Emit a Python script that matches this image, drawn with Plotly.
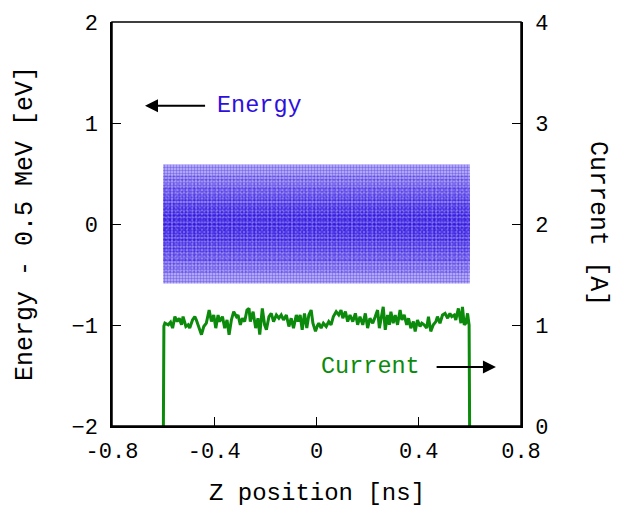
import plotly.graph_objects as go

# ---- data ----
x_ticks = [-0.8, -0.4, 0, 0.4, 0.8]
x_tick_labels = ["-0.8", "-0.4", "0", "0.4", "0.8"]
y_ticks = [-2, -1, 0, 1, 2]
y2_ticks = [0, 1, 2, 3, 4]

# energy cloud envelope (z extent, and energy half-widths of the density bands)
cloud_z = [-0.6, 0.6]
cloud_half = [0.59, 0.48, 0.38, 0.28, 0.19, 0.10]

# current profile [A] vs z [ns]
cur_z = [-0.599, -0.597, -0.593, -0.580, -0.571, -0.563, -0.554, -0.545, -0.537, -0.528, -0.522,
         -0.511, -0.502, -0.496, -0.485, -0.476, -0.470, -0.459, -0.450, -0.441, -0.431,
         -0.420, -0.411, -0.402, -0.394, -0.385, -0.379, -0.368, -0.359, -0.350, -0.342,
         -0.333, -0.324, -0.313, -0.307, -0.298, -0.290, -0.281, -0.272, -0.264, -0.259,
         -0.248, -0.238, -0.229, -0.222, -0.212, -0.203, -0.196, -0.186, -0.177, -0.168,
         -0.157, -0.147, -0.138, -0.129, -0.118, -0.108, -0.099, -0.090, -0.079, -0.072,
         -0.064, -0.056, -0.047, -0.038, -0.030, -0.021, -0.014, -0.004, 0.005,
         0.009, 0.018, 0.027, 0.038, 0.048, 0.057, 0.066, 0.077, 0.087, 0.096, 0.103,
         0.113, 0.122, 0.131, 0.142, 0.152, 0.161, 0.170, 0.181, 0.191, 0.200, 0.209,
         0.220, 0.230, 0.239, 0.246, 0.252, 0.261, 0.269, 0.278, 0.285, 0.291, 0.300,
         0.308, 0.317, 0.327, 0.334, 0.343, 0.353, 0.360, 0.369, 0.379, 0.386, 0.395,
         0.405, 0.412, 0.421, 0.431, 0.438, 0.447, 0.457, 0.467, 0.473, 0.483, 0.493,
         0.503, 0.513, 0.522, 0.529, 0.539, 0.545, 0.555, 0.565, 0.571, 0.578, 0.584,
         0.591, 0.597, 0.599]
cur_a = [0.0, 0.99, 1.018, 1.002, 1.028, 0.969, 1.083, 1.034, 1.067, 1.002, 1.083,
         0.985, 1.002, 0.969, 1.050, 1.083, 1.050, 0.969, 0.904, 0.985, 1.018,
         1.148, 1.034, 1.099, 0.969, 1.099, 1.034, 1.083, 0.969, 1.050, 0.904,
         1.050, 1.132, 1.083, 1.099, 1.002, 1.067, 1.034, 1.148, 1.164, 1.034,
         1.132, 0.969, 1.067, 0.904, 1.164, 1.002, 0.953, 1.083, 1.115, 1.034,
         1.099, 1.067, 1.099, 1.050, 1.099, 0.985, 1.067, 0.969, 1.099, 1.034,
         1.099, 0.953, 1.115, 0.969, 1.099, 1.148, 1.018, 0.937, 1.002,
         1.018, 0.969, 1.018, 0.985, 1.034, 1.002, 1.083, 1.132, 1.099, 1.148, 1.067,
         1.132, 1.034, 1.099, 1.034, 1.115, 1.002, 1.083, 1.002, 1.115, 0.969, 1.067,
         1.018, 1.083, 1.148, 0.969, 1.050, 1.180, 0.953, 1.099, 1.002, 1.132, 1.018,
         1.099, 1.002, 1.148, 1.050, 1.099, 1.002, 1.067, 0.969, 1.034, 0.937, 1.050,
         0.985, 1.018, 1.002, 0.969, 1.083, 0.937, 1.002, 1.034, 1.083, 1.018, 1.099,
         1.115, 1.067, 1.115, 1.083, 1.099, 1.050, 1.164, 1.018, 1.180, 1.002, 1.018,
         1.115, 1.0, 0.0]

BLUE = "#2f0fe0"
GREEN = "#0b8a0b"
FONT = "Liberation Mono"

fig = go.Figure()

# energy cloud drawn as stacked dotted density bands (denser toward the centre)
band_styles = [
    dict(bg="rgba(90,70,235,0.38)", fg="rgba(40,10,225,0.9)", size=3, sol=0.5),
    dict(bg="rgba(60,35,230,0.10)", fg="rgba(40,10,225,0.6)", size=4, sol=0.35),
    dict(bg="rgba(55,30,230,0.10)", fg="rgba(40,10,225,0.6)", size=5, sol=0.35),
    dict(bg="rgba(50,25,228,0.10)", fg="rgba(35,5,220,0.6)", size=3, sol=0.3),
    dict(bg="rgba(45,20,228,0.10)", fg="rgba(35,5,220,0.6)", size=4, sol=0.3),
    dict(bg="rgba(45,20,228,0.10)", fg="rgba(35,5,220,0.6)", size=5, sol=0.3),
]
for h, st in zip(cloud_half, band_styles):
    fig.add_trace(go.Scatter(
        x=[cloud_z[0], cloud_z[1], cloud_z[1], cloud_z[0], cloud_z[0]],
        y=[-h, -h, h, h, -h],
        mode="lines", line=dict(width=0), fill="toself",
        fillcolor=st["bg"],
        fillpattern=dict(shape=".", fgcolor=st["fg"], bgcolor=st["bg"],
                         size=st["size"], solidity=st["sol"]),
        hoverinfo="skip", showlegend=False, yaxis="y"))

fig.add_trace(go.Scatter(x=cur_z, y=cur_a, mode="lines",
                         line=dict(color=GREEN, width=3),
                         yaxis="y2", showlegend=False, hoverinfo="skip"))

axis_common = dict(showline=True, linecolor="black", linewidth=1.5, mirror=False,
                   ticks="inside", ticklen=9, tickwidth=1.2, tickcolor="black",
                   showgrid=False, zeroline=False,
                   tickfont=dict(family=FONT, size=22, color="black"))

fig.update_layout(
    width=628, height=509,
    margin=dict(l=112, r=107, t=16, b=83),
    paper_bgcolor="white", plot_bgcolor="white",
    xaxis=dict(range=[-0.8, 0.8], tickvals=x_ticks, ticktext=x_tick_labels,
               ticklabelstandoff=4, **axis_common),
    yaxis=dict(range=[-2, 2], tickvals=y_ticks, ticklabelstandoff=8, **axis_common),
    yaxis2=dict(range=[0, 4], tickvals=y2_ticks, overlaying="y", side="right",
                ticklabelstandoff=8, **axis_common),
    shapes=[dict(type="rect", xref="paper", yref="paper", x0=0, y0=0, x1=1, y1=1,
                 line=dict(color="black", width=1.5), layer="above")],
    annotations=[
        dict(text="Z position [ns]", xref="paper", yref="paper", x=0.5, y=-0.166,
             xanchor="center", yanchor="middle",
             showarrow=False, font=dict(family=FONT, size=24, color="black")),
        dict(text="Energy - 0.5 MeV [eV]", xref="paper", yref="paper", x=-0.2127, y=0.5,
             xanchor="center", yanchor="middle",
             textangle=-90, showarrow=False, font=dict(family=FONT, size=25, color="black")),
        dict(text="Current [A]", xref="paper", yref="paper", x=1.188, y=0.5,
             xanchor="center", yanchor="middle",
             textangle=90, showarrow=False, font=dict(family=FONT, size=25, color="black")),
        dict(text="Energy", x=-0.398, y=1.17, xref="x", yref="y", xanchor="left",
             showarrow=False, font=dict(family=FONT, size=23.5, color=BLUE)),
        dict(text="", x=-0.671, y=1.17, ax=-0.43, ay=1.17, xref="x", yref="y",
             axref="x", ayref="y", showarrow=True, arrowhead=2, arrowsize=1.3,
             arrowwidth=2, arrowcolor="black"),
        dict(text="Current", x=0.414, y=0.585, xref="x", yref="y2", xanchor="right",
             showarrow=False, font=dict(family=FONT, size=23.5, color=GREEN)),
        dict(text="", x=0.702, y=0.585, ax=0.464, ay=0.585, xref="x", yref="y2",
             axref="x", ayref="y2", showarrow=True, arrowhead=2, arrowsize=1.3,
             arrowwidth=2, arrowcolor="black"),
    ],
)

fig.write_html("out.html")
